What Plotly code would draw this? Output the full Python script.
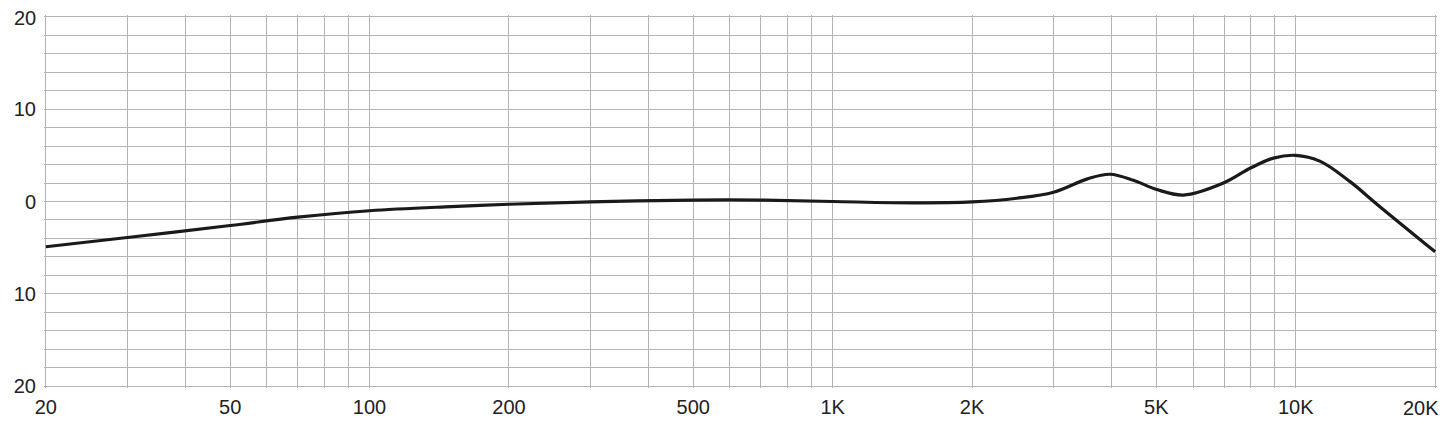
import math
import plotly.graph_objects as go

freq_hz = [20, 30, 50, 70, 100, 150, 200, 300, 500, 700, 1000, 1500, 2000, 2500, 3000,
           3550, 3970, 4460, 5010, 5720, 6980, 7970, 8950, 10000, 11300,
           13100, 15060, 20000]
level_db = [-4.9, -3.9, -2.6, -1.7, -1.0, -0.55, -0.3, -0.05, 0.15, 0.15, 0.0, -0.15, -0.05, 0.35, 1.0,
            2.45, 2.95, 2.3, 1.3, 0.7, 2.0, 3.6, 4.7, 5.0, 4.35,
            2.15, -0.4, -5.45]

x_grid = [20, 30, 40, 50, 60, 70, 80, 90, 100, 200, 300, 400, 500, 600, 700, 800, 900,
          1000, 2000, 3000, 4000, 5000, 6000, 7000, 8000, 9000, 10000, 20000]
x_labels = {20: "20", 50: "50", 100: "100", 200: "200", 500: "500", 1000: "1K",
            2000: "2K", 5000: "5K", 10000: "10K"}
x_last_label = "20K"
y_grid = list(range(-20, 21, 2))
y_labels = {10: "10", 0: "0", -10: "10", -20: "20"}
y_top_value = 20
y_top_label = "20"

FONT = "Liberation Sans, Arial, sans-serif"
XPAD = 0.004  # decades of padding so edge gridlines are not dropped
YPAD = 0.2    # dB of padding so edge gridlines are not dropped

fig = go.Figure()
fig.add_trace(go.Scatter(
    x=freq_hz, y=level_db, mode="lines",
    line=dict(color="#1a1a1a", width=3.2, shape="spline", smoothing=1.0),
    hoverinfo="skip", showlegend=False,
))

fig.add_annotation(
    x=math.log10(20000), y=0, xref="x", yref="paper", text=x_last_label, showarrow=False,
    xanchor="right", yanchor="top", xshift=6, yshift=-7,
    font=dict(family=FONT, size=20, color="#222222"),
)
fig.add_annotation(
    x=math.log10(20), y=y_top_value, xref="x", yref="y", text=y_top_label, showarrow=False,
    xanchor="right", yanchor="middle", xshift=-8, yshift=-1,
    font=dict(family=FONT, size=20, color="#222222"),
)

# page body has an 8px default margin, so the figure is sized/offset to fit the window
fig.update_layout(
    width=1432, height=410,
    margin=dict(l=36, r=3, t=7, b=30, autoexpand=False),
    paper_bgcolor="white", plot_bgcolor="white",
    font=dict(family=FONT, size=20, color="#222222"),
    xaxis=dict(
        type="log", range=[math.log10(20) - XPAD, math.log10(20000) + XPAD],
        tickmode="array", tickvals=x_grid,
        ticktext=[x_labels.get(v, "") for v in x_grid],
        showgrid=True, gridcolor="#b4b4b4", gridwidth=1,
        ticks="", zeroline=False, showline=False, automargin=False,
        ticklabelstandoff=5,
    ),
    yaxis=dict(
        range=[-20 - YPAD, 20 + YPAD],
        tickmode="array", tickvals=y_grid,
        ticktext=[y_labels.get(v, "") for v in y_grid],
        showgrid=True, gridcolor="#b4b4b4", gridwidth=1,
        ticks="", zeroline=False, showline=False, automargin=False,
        ticklabelstandoff=7,
    ),
)

fig.write_html("out.html")
